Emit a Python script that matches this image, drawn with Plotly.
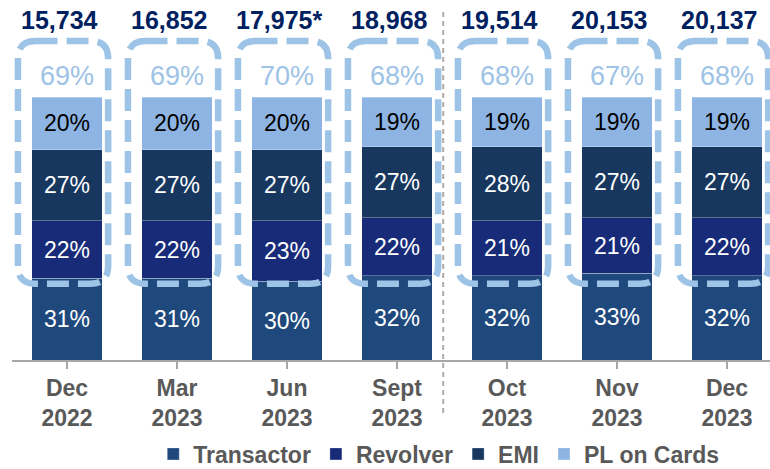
import plotly.graph_objects as go

categories = ["Dec<br>2022", "Mar<br>2023", "Jun<br>2023", "Sept<br>2023", "Oct<br>2023", "Nov<br>2023", "Dec<br>2023"]
transactor = [31, 31, 30, 32, 32, 33, 32]
revolver = [22, 22, 23, 22, 21, 21, 22]
emi = [27, 27, 27, 27, 28, 27, 27]
pl_on_cards = [20, 20, 20, 19, 19, 19, 19]
totals = ["15,734", "16,852", "17,975*", "18,968", "19,514", "20,153", "20,137"]

FONT = "Arial, Liberation Sans, sans-serif"
C_TRANS = "#1F497D"
C_REV = "#172B78"
C_EMI = "#17375E"
C_PL = "#8DB4E2"
C_DASH = "#9DC3E6"
C_NAVY = "#002060"
C_GRAY = "#595959"

x = list(range(len(categories)))

fig = go.Figure()
series = [
    ("Transactor", transactor, C_TRANS, "white"),
    ("Revolver", revolver, C_REV, "white"),
    ("EMI", emi, C_EMI, "white"),
    ("PL on Cards", pl_on_cards, C_PL, "black"),
]
for name, vals, col, tcol in series:
    fig.add_trace(go.Bar(
        name=name, x=x, y=vals,
        marker=dict(color=col, line=dict(color="rgba(255,255,255,0.3)", width=1)),
        width=0.645,
        text=[f"{v}%" for v in vals], textposition="inside", insidetextanchor="middle",
        textangle=0, constraintext="none",
        textfont=dict(family=FONT, size=23, color=tcol),
        hoverinfo="skip",
    ))

# Dashed rounded frames around Revolver+EMI+PL and the share label
rx, ry = 0.16, 6.6
for i in x:
    cx = i - 0.036
    x0, x1 = cx - 0.41, cx + 0.41
    y0, y1 = 29, 121.3
    path = (f"M {x0+rx},{y1} L {x1-rx},{y1} Q {x1},{y1} {x1},{y1-ry} "
            f"L {x1},{y0+ry} Q {x1},{y0} {x1-rx},{y0} L {x0+rx},{y0} "
            f"Q {x0},{y0} {x0},{y0+ry} L {x0},{y1-ry} Q {x0},{y1} {x0+rx},{y1} Z")
    fig.add_shape(type="path", path=path, xref="x", yref="y", layer="above",
                  line=dict(color=C_DASH, width=6.5, dash="22px,9px"))
    share = revolver[i] + emi[i] + pl_on_cards[i]
    fig.add_annotation(x=i, y=108.0, xref="x", yref="y", text=f"{share}%",
                       showarrow=False, font=dict(family=FONT, size=27, color=C_DASH))
    fig.add_annotation(x=i - 0.07, y=129.3, xref="x", yref="y", text=f"<b>{totals[i]}</b>",
                       showarrow=False, font=dict(family=FONT, size=25, color=C_NAVY))

# Divider between quarterly and monthly data
fig.add_shape(type="line", xref="x", yref="paper", x0=3.42, x1=3.42, y0=-0.147, y1=0.967,
              line=dict(color="#B3ABA3", width=2, dash="5px,4px"))

fig.update_layout(
    width=770, height=469,
    margin=dict(l=12, r=0, t=0, b=109, autoexpand=False),
    barmode="stack",
    plot_bgcolor="white", paper_bgcolor="white",
    showlegend=True,
    legend=dict(orientation="h", x=0.563, xanchor="center", y=-0.261, yanchor="middle",
                font=dict(family=FONT, size=23, color=C_GRAY, weight="bold"), traceorder="normal",
                itemwidth=30, bgcolor="rgba(0,0,0,0)"),
    xaxis=dict(
        tickmode="array", tickvals=x, ticktext=[f"<b>{c}</b>" for c in categories],
        range=[-0.5, -0.5 + 758 / 110],
        showline=True, linecolor="#A6A6A6", linewidth=1.5,
        ticks="outside", ticklen=7, tickcolor="#A6A6A6", tickwidth=1.5,
        tickfont=dict(family=FONT, size=23, color=C_GRAY),
        showgrid=False, zeroline=False, fixedrange=True,
    ),
    yaxis=dict(range=[0, 360 / 2.63], visible=False, showgrid=False, fixedrange=True),
)

fig.write_html("out.html", config={"displayModeBar": False},
               post_script="document.body.style.margin='0';document.body.style.overflow='hidden';")
